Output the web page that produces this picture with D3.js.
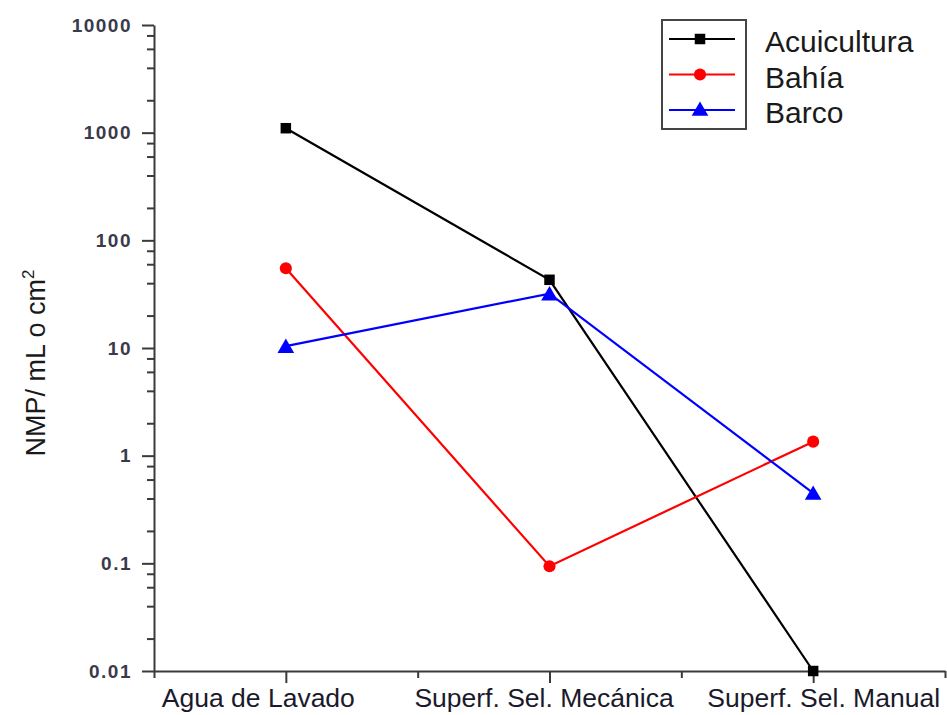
<!DOCTYPE html>
<html><head><meta charset="utf-8">
<script src="https://cdn.jsdelivr.net/npm/d3@7"></script>
<style>body{margin:0;background:#fff}svg{display:block}</style>
</head><body>
<svg id="c" width="947" height="715"></svg>
<script>
const categories = ["Agua de Lavado", "Superf. Sel. Mecánica", "Superf. Sel. Manual"];
const acuicultura = [1100, 43, 0.01];
const bahia = [55, 0.094, 1.35];
const barco = [10.4, 32, 0.45];
const yTickValues = [0.01, 0.1, 1, 10, 100, 1000, 10000];
const yTickLabels = ["0.01", "0.1", "1", "10", "100", "1000", "10000"];
const seriesNames = ["Acuicultura", "Bahía", "Barco"];

(function () {
const svg = d3.select("#c");
const mLeft = 154, mRight = 945, mTop = 25, mBottom = 671;
const x = d3.scaleLinear().domain([0.5, 3.5]).range([mLeft, mRight]);
const y = d3.scaleLog().domain([0.01, 10000]).range([mBottom, mTop]);
const font = "Arial, 'Liberation Sans', sans-serif";
const axisColor = "#3a3a3a";

// y minor ticks
const minor = [];
for (let e = -2; e < 4; e++) for (const m of [2, 4, 6, 8]) minor.push(m * Math.pow(10, e));
const gym = svg.append("g").attr("transform", `translate(${mLeft},0)`).call(d3.axisLeft(y).tickValues(minor).tickSize(7).tickFormat(""));
gym.select(".domain").remove();
gym.selectAll(".tick line").attr("stroke", axisColor).attr("stroke-width", 2);

const yAxis = d3.axisLeft(y).tickValues(yTickValues).tickFormat((d, i) => yTickLabels[i]).tickSize(12).tickSizeOuter(0).tickPadding(10);
const gy = svg.append("g").attr("transform", `translate(${mLeft},0)`).call(yAxis);
gy.select(".domain").attr("stroke", axisColor).attr("stroke-width", 2);
gy.selectAll(".tick line").attr("stroke", axisColor).attr("stroke-width", 2);
gy.selectAll(".tick text").attr("font-family", font).attr("font-size", 19).attr("font-weight", "bold")
  .attr("letter-spacing", "1.5px").attr("fill", "#3a3a4a");

// x minor ticks (between categories)
const gxm = svg.append("g").attr("transform", `translate(0,${mBottom})`)
  .call(d3.axisBottom(x).tickValues([0.5, 1.5, 2.5, 3.5]).tickSize(7).tickFormat(""));
gxm.select(".domain").remove();
gxm.selectAll(".tick line").attr("stroke", axisColor).attr("stroke-width", 2);

const xAxis = d3.axisBottom(x).tickValues([1, 2, 3]).tickFormat(d => categories[d - 1]).tickSize(12).tickSizeOuter(0).tickPadding(8);
const gx = svg.append("g").attr("transform", `translate(0,${mBottom})`).call(xAxis);
gx.select(".domain").attr("stroke", axisColor).attr("stroke-width", 2);
gx.selectAll(".tick line").attr("stroke", axisColor).attr("stroke-width", 2);
const labelShift = [-28, -6, 10];
gx.selectAll(".tick text").attr("font-family", font).attr("font-size", 26.5).attr("fill", "#1a1a2a")
  .attr("dy", null).attr("y", 36).attr("dx", (d, i) => labelShift[i]);

// y label
svg.append("text").attr("transform", "translate(45,363) rotate(-90)").attr("text-anchor", "middle")
  .attr("font-family", font).attr("font-size", 27).attr("fill", "#1a1a1a")
  .text("NMP/ mL o cm").append("tspan").attr("dy", -11).attr("font-size", 17).text("2");

const series = [
  {name: seriesNames[0], values: acuicultura, color: "#000000", marker: "square"},
  {name: seriesNames[1], values: bahia, color: "#ff0000", marker: "circle"},
  {name: seriesNames[2], values: barco, color: "#0000ff", marker: "triangle"}
];
const symMap = {square: d3.symbolSquare, circle: d3.symbolCircle, triangle: d3.symbolTriangle};
const symSize = {square: 110, circle: 115, triangle: 120};
const line = d3.line().x((d, i) => x(i + 1)).y(d => y(d));
series.forEach(s => {
  svg.append("path").datum(s.values).attr("d", line).attr("fill", "none").attr("stroke", s.color).attr("stroke-width", 2.2);
  svg.selectAll(null).data(s.values).enter().append("path")
    .attr("d", d3.symbol().type(symMap[s.marker]).size(symSize[s.marker]))
    .attr("transform", (d, i) => `translate(${x(i + 1)},${y(d) + (s.marker === "triangle" ? 2 : 0)})`)
    .attr("fill", s.color);
});

// legend
const lg = svg.append("g");
lg.append("rect").attr("x", 662).attr("y", 20).attr("width", 84).attr("height", 109).attr("fill", "#fff").attr("stroke", "#444").attr("stroke-width", 2);
series.forEach((s, i) => {
  const yy = 39 + i * 35.5;
  lg.append("line").attr("x1", 669).attr("x2", 735).attr("y1", yy).attr("y2", yy).attr("stroke", s.color).attr("stroke-width", 2.2);
  lg.append("path").attr("d", d3.symbol().type(symMap[s.marker]).size(symSize[s.marker]))
    .attr("transform", `translate(700,${yy + (s.marker === "triangle" ? 1 : 0)})`).attr("fill", s.color);
  lg.append("text").attr("x", 765).attr("y", yy + 13).attr("font-family", font)
    .attr("font-size", 30).attr("fill", "#1a1a1a").text(s.name);
});
})();
</script>
</body></html>
